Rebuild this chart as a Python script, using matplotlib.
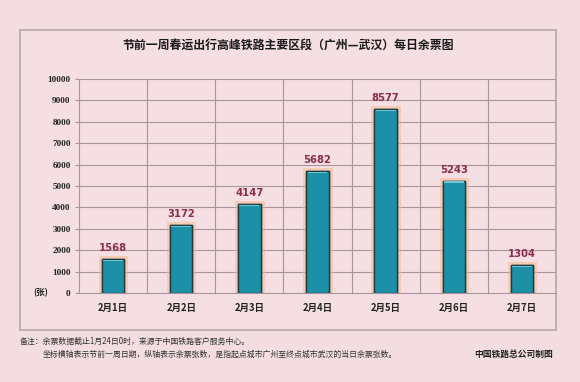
import matplotlib
matplotlib.use("Agg")
import matplotlib.pyplot as plt
import matplotlib.patheffects as pe
from matplotlib.patches import Rectangle

plt.rcParams['font.family'] = ['Noto Sans CJK SC', 'DejaVu Sans']

dates = ["2月1日", "2月2日", "2月3日", "2月4日", "2月5日", "2月6日", "2月7日"]
tickets = [1568, 3172, 4147, 5682, 8577, 5243, 1304]
y_ticks = list(range(0, 10001, 1000))

title = "节前一周春运出行高峰铁路主要区段（广州—武汉）每日余票图"
note1 = "备注：余票数据截止1月24日0时，来源于中国铁路客户服务中心。"
note2 = "坐标横轴表示节前一周日期，纵轴表示余票张数，是指起点城市广州至终点城市武汉的当日余票张数。"
credit = "中国铁路总公司制图"

bg = "#f3dde1"
grid_c = "#a8949c"

fig = plt.figure(figsize=(5.8, 3.82), dpi=100, facecolor=bg)

# outer frame
frame = Rectangle((20 / 580, 1 - 330 / 382), 536 / 580, 300 / 382,
                  transform=fig.transFigure, facecolor="#f5dfe3",
                  edgecolor="#b9a3ab", linewidth=1.2, zorder=-1)
fig.patches.append(frame)

ax = fig.add_axes([79 / 580, 1 - 293 / 382, 477 / 580, 214 / 382])
ax.set_zorder(2)
ax.set_facecolor("none")

x = list(range(len(dates)))
bars = ax.bar(x, tickets, width=0.33, color="#1d8fa6", edgecolor="#1d3d42",
              linewidth=1.0, zorder=3)
for b in bars:
    b.set_path_effects([pe.withStroke(linewidth=5, foreground="#f7b98f", alpha=0.55),
                        pe.Normal()])
    # lighter strip on bar top
    ax.add_patch(Rectangle((b.get_x() + 0.02, b.get_height() - 90), b.get_width() - 0.04, 70,
                           facecolor="#6fc3d2", edgecolor="none", zorder=4))

for xi, v in zip(x, tickets):
    ax.text(xi, v + 280, str(v), ha="center", va="bottom", fontsize=7.2,
            fontweight="bold", color="#8a2d4c", family="DejaVu Sans", zorder=5)

ax.set_xlim(-0.5, len(dates) - 0.5)
ax.set_ylim(0, 10000)
ax.set_yticks(y_ticks)
ax.set_yticklabels([str(t) for t in y_ticks], family="Liberation Serif",
                   fontsize=6.6, fontweight="bold", color="#222222")
ax.set_xticks(x)
ax.set_xticklabels(dates, fontsize=6.8, fontweight="bold", color="#222222")
ax.tick_params(axis="y", length=3, color=grid_c, pad=3)
ax.tick_params(axis="x", length=0, pad=7)

for t in y_ticks[1:]:
    ax.axhline(t, color=grid_c, linewidth=0.8, zorder=1)
for b in [i + 0.5 for i in x]:
    ax.axvline(b, color=grid_c, linewidth=0.8, zorder=1)

for s in ["top", "right"]:
    ax.spines[s].set_visible(False)
ax.spines["left"].set_color(grid_c)
ax.spines["bottom"].set_color(grid_c)
ax.spines["left"].set_linewidth(0.8)
ax.spines["bottom"].set_linewidth(0.8)

fig.text(33 / 580, 1 - 293 / 382, "(张)", fontsize=6, fontweight="bold",
         ha="left", va="center", color="#222222")

fig.text(0.5 * (20 + 556) / 580, 1 - 45 / 382, title, ha="center", va="center",
         fontsize=8.6, fontweight="bold", color="#1a1a1a")

fig.text(20 / 580, 1 - 341 / 382, note1, ha="left", va="center",
         fontsize=5.7, color="#333333")
fig.text(43 / 580, 1 - 354 / 382, note2, ha="left", va="center",
         fontsize=5.7, color="#333333")
fig.text(553 / 580, 1 - 354 / 382, credit, ha="right", va="center",
         fontsize=6.3, fontweight="bold", color="#222222")

fig.savefig("out.png", dpi=100, facecolor=bg)
